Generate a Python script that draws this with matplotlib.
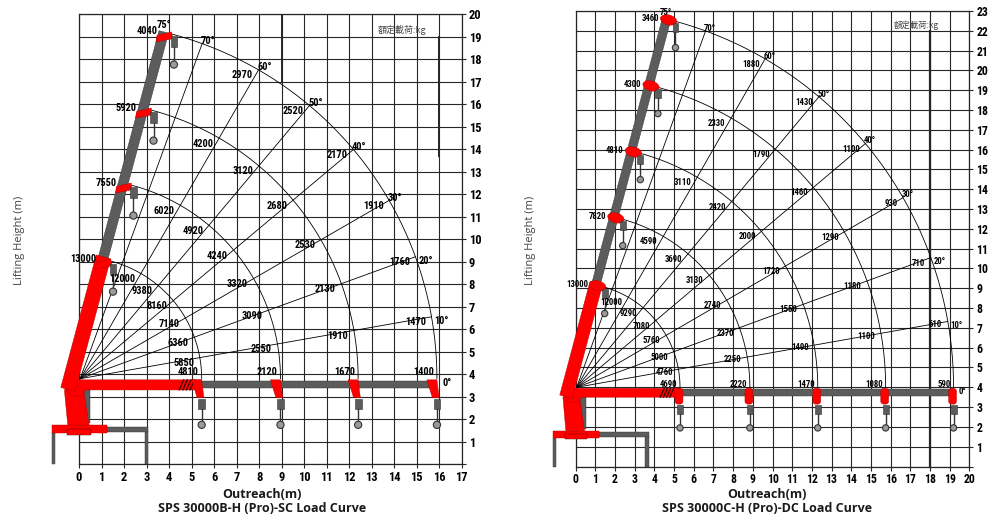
import numpy as np
import matplotlib.pyplot as plt
from matplotlib import font_manager as fm
from matplotlib.patches import Polygon, Circle, Rectangle, Ellipse, FancyBboxPatch

# pick a narrow font for the numbers if one is installed
_names = {f.name for f in fm.fontManager.ttflist}
_narrow = [n for n in ['Liberation Sans Narrow', 'Arial Narrow', 'Roboto Condensed', 'Archivo Narrow',
                       'PT Sans Narrow', 'Pragati Narrow', 'IBM Plex Sans Condensed'] if n in _names]
NUM_FONT = _narrow[:1] + ['DejaVu Sans']
CJK_FONT = ['Noto Sans CJK TC', 'DejaVu Sans']
RED = '#ff0000'
DARKRED = '#b00000'
GREY = '#5c5c5c'
LINE = '#262626'

# boom angles a load is given for (75 = boom position drawn), rays drawn
load_angles = [75, 60, 50, 40, 30, 20, 10, 0]
ray_angles = [70, 60, 50, 40, 30, 20, 10]
angle_marks = [75, 70, 60, 50, 40, 30, 20, 10, 0]

# ---- left chart: SPS 30000B-H (Pro)-SC
left_title = 'SPS 30000B-H (Pro)-SC Load Curve'
left_xmax, left_ymax = 17, 20
left_pivot = (0.05, 3.8)
left_radii = [5.4, 8.9, 12.35, 15.85]
left_loads = [
    [13000, 12000, 9380, 8160, 7140, 6360, 5850, 4810],
    [7550, 6020, 4920, 4240, 3320, 3090, 2550, 2120],
    [5920, 4200, 3120, 2680, 2530, 2130, 1910, 1670],
    [4040, 2970, 2520, 2170, 1910, 1760, 1470, 1400],
]

# ---- right chart: SPS 30000C-H (Pro)-DC
right_title = 'SPS 30000C-H (Pro)-DC Load Curve'
right_xmax, right_ymax = 20, 23
right_pivot = (0.05, 4.0)
right_radii = [5.25, 8.8, 12.25, 15.7, 19.15]
right_loads = [
    [13000, 12000, 9290, 7080, 5760, 5000, 4760, 4690],
    [7820, 4590, 3690, 3130, 2740, 2370, 2250, 2220],
    [4810, 3110, 2420, 2000, 1720, 1550, 1490, 1470],
    [4300, 2330, 1790, 1460, 1290, 1180, 1100, 1080],
    [3460, 1880, 1430, 1100, 930, 710, 610, 590],
]


def setup_axes(ax, xmax, ymax, tick_size):
    ax.set_xlim(0, xmax)
    ax.set_ylim(0, ymax)
    ax.set_xticks(range(0, xmax + 1))
    ax.set_yticks(range(0, ymax + 1))
    ax.set_yticklabels([''] + [str(v) for v in range(1, ymax + 1)])
    ax.yaxis.tick_right()
    ax.tick_params(length=3, width=0.8, color=LINE, pad=2, labelsize=tick_size)
    for lbl in ax.get_xticklabels() + ax.get_yticklabels():
        lbl.set_fontfamily(NUM_FONT)
        lbl.set_fontweight('bold')
    ax.grid(True, color=LINE, lw=0.8)
    ax.set_axisbelow(True)
    for sp in ax.spines.values():
        sp.set_color(LINE)
        sp.set_linewidth(0.9)


def boom_poly(pivot, s0, s1, c, w, ang=75):
    a = np.radians(ang)
    u = np.array([np.cos(a), np.sin(a)])
    n = np.array([-np.sin(a), np.cos(a)])
    p = np.array(pivot)
    pts = [p + s0 * u + (c - w) * n, p + s1 * u + (c - w) * n,
           p + s1 * u + (c + w) * n, p + s0 * u + (c + w) * n]
    return pts


def boom_point(pivot, s, c, ang=75):
    a = np.radians(ang)
    return (pivot[0] + s * np.cos(a) - c * np.sin(a),
            pivot[1] + s * np.sin(a) + c * np.cos(a))


def hook(ax, x, ytop, length=1.0, z=5):
    ax.add_patch(Rectangle((x - 0.15, ytop - 0.45), 0.3, 0.45, fc=GREY, ec='#333', lw=0.4,
                           zorder=z, clip_on=False))
    ax.plot([x, x], [ytop - 0.45, ytop - length + 0.2], color='#333', lw=1.0, zorder=z, clip_on=False)
    ax.add_patch(Circle((x, ytop - length + 0.05), 0.16, fc='#9a9a9a', ec='#333', lw=0.8,
                        zorder=z, clip_on=False))


def draw_crane(ax, pivot, radii, rounded, base):
    px, py = pivot
    r1, rmax = radii[0], radii[-1]
    bx0, bx1, gx1, by0, by1 = base
    kw = dict(clip_on=False, lw=0.3)
    # outrigger legs and beam
    ax.add_patch(Rectangle((bx0, 0), 0.16, by0, fc=GREY, ec='#333', zorder=4, **kw))
    ax.add_patch(Rectangle((gx1 - 0.16, 0), 0.16, by0 + 0.1, fc=GREY, ec='#333', zorder=4, **kw))
    ax.add_patch(Rectangle((bx1, by0 + 0.08), gx1 - bx1, by1 - by0 - 0.16, fc=GREY, ec='#333',
                           zorder=4, **kw))
    ax.add_patch(Rectangle((bx0, by0), bx1 - bx0, by1 - by0, fc=RED, ec=DARKRED, zorder=5, **kw))
    ax.add_patch(Rectangle((-0.55, by0 - 0.05), 1.1, 0.25, fc=RED, ec='#400', zorder=6, **kw))
    # slewing column with cylinder
    ax.add_patch(Rectangle((0.2, by1 + 0.1), 0.3, py - by1 - 0.6, fc=GREY, ec='#333', zorder=4, **kw))
    col = [(-0.5, by1), (0.45, by1), (0.2, py - 0.5), (-0.3, py - 0.2), (-0.65, py - 0.5)]
    ax.add_patch(Polygon(col, fc=RED, ec=DARKRED, zorder=5, **kw))
    # horizontal boom (0 deg position)
    ytop = py - 0.05
    ybot = py - 0.5
    ax.add_patch(Rectangle((r1, ybot + 0.07), rmax - r1, ytop - ybot - 0.12, fc=GREY, ec='#333',
                           zorder=5, **kw))
    ax.add_patch(Polygon([(-0.75, py - 0.25), (-0.3, ytop + 0.1), (0.1, ytop), (r1 + 0.05, ytop),
                          (r1 + 0.05, ybot), (0.3, ybot), (0.1, ybot - 0.3), (-0.4, ybot - 0.2)],
                         fc=RED, ec=DARKRED, zorder=6, **kw))
    for k in range(4):
        x0 = r1 - 0.95 + k * 0.16
        ax.plot([x0, x0 + 0.2], [ybot, ytop], color='#300', lw=0.9, zorder=7, clip_on=False)
    for r in radii:
        if rounded:
            ax.add_patch(FancyBboxPatch((r - 0.15, ybot - 0.3), 0.3, ytop - ybot + 0.25,
                                        boxstyle='round,pad=0.05,rounding_size=0.15',
                                        fc=RED, ec=DARKRED, zorder=7, **kw))
        else:
            ax.add_patch(Polygon([(r - 0.4, ytop), (r + 0.05, ytop), (r + 0.15, ybot - 0.35),
                                  (r - 0.15, ybot - 0.35)], fc=RED, ec=DARKRED, zorder=7, **kw))
        hook(ax, r + 0.05, ybot - 0.4, 1.2)
    # knuckle (inner) boom and outer boom at 75 deg
    c = 0.4
    ax.add_patch(Polygon(boom_poly(pivot, r1, rmax, c, 0.22), fc=GREY, ec='#333', zorder=6, **kw))
    ax.add_patch(Polygon(boom_poly(pivot, -0.6, r1 + 0.1, c, 0.33), fc=RED, ec=DARKRED, zorder=7, **kw))
    for r in radii:
        hx, hy = boom_point(pivot, r, c)
        if rounded:
            ax.add_patch(Ellipse((hx + 0.1, hy - 0.05), 0.85, 0.5, angle=-15, fc=RED, ec=DARKRED,
                                 zorder=8, **kw))
        else:
            ax.add_patch(Polygon([(hx - 0.3, hy - 0.15), (hx + 0.35, hy), (hx + 0.4, hy - 0.3),
                                  (hx - 0.35, hy - 0.45)], fc=RED, ec=DARKRED, zorder=8, **kw))
        hook(ax, hx + 0.45, hy - 0.2, 1.3, z=8)


def draw_chart(ax, pivot, radii, loads, num_size, rounded, base, low_dy):
    px, py = pivot
    rmax = radii[-1]
    # rays
    for a in ray_angles:
        t = np.radians(a)
        ax.plot([px, px + rmax * np.cos(t)], [py, py + rmax * np.sin(t)], color='black', lw=0.6,
                zorder=3)
    # arcs
    th = np.radians(np.linspace(0, 75, 200))
    for r in radii:
        ax.plot(px + r * np.cos(th), py + r * np.sin(th), color='black', lw=0.6, zorder=3)
    draw_crane(ax, pivot, radii, rounded, base)
    # load values
    for r, row in zip(radii, loads):
        for a, v in zip(load_angles, row):
            t = np.radians(a)
            x, y = px + r * np.cos(t), py + r * np.sin(t)
            if a == 75:
                off, va = (-11, 2), 'center'
            elif a == 0:
                off, va = (-2, low_dy[0]), 'bottom'
            elif a == 10:
                off, va = (-4, low_dy[1]), 'center'
            else:
                off, va = (-4, -4), 'center'
            ax.annotate(str(v), (x, y), xytext=off, textcoords='offset points', ha='right', va=va,
                        fontsize=num_size, fontweight='bold', family=NUM_FONT, zorder=9,
                        annotation_clip=False)
    # angle marks at the outer arc
    for a in angle_marks:
        t = np.radians(a)
        x, y = px + rmax * np.cos(t), py + rmax * np.sin(t)
        if a == 75:
            off, ha, va = (-6, 3), 'center', 'bottom'
        elif a == 0:
            off, ha, va = (4, -3), 'left', 'center'
        elif a <= 20:
            off, ha, va = (2, -3), 'left', 'center'
        else:
            off, ha, va = (-1, 2), 'left', 'center'
        ax.annotate(f'{a}°', (x, y), xytext=off, textcoords='offset points', ha=ha, va=va,
                    fontsize=num_size, fontweight='bold', family=NUM_FONT, zorder=9,
                    annotation_clip=False)


fig = plt.figure(figsize=(10, 5.25), dpi=100)

ax1 = fig.add_axes([0.079, 0.1158, 0.3827, 0.8571])
setup_axes(ax1, left_xmax, left_ymax, 9)
draw_chart(ax1, left_pivot, left_radii, left_loads, 7.5, False, (-1.22, 1.23, 3.08, 1.37, 1.74),
           (1, -4))
ax1.plot([9, 9], [17, 20], color=LINE, lw=1.4, zorder=2)
ax1.plot([16, 16], [13.7, 19], color=LINE, lw=1.4, zorder=2)
ax1.text(14.35, 19.3, '額定載荷:kg', family=CJK_FONT, fontsize=6.5, color='#444', ha='center',
         va='center', zorder=9)

ax2 = fig.add_axes([0.5757, 0.1114, 0.3936, 0.8676])
setup_axes(ax2, right_xmax, right_ymax, 8.5)
draw_chart(ax2, right_pivot, right_radii, right_loads, 6.3, True, (-1.17, 1.2, 3.7, 1.42, 1.8),
           (-1, -2))
ax2.plot([18, 18], [0, 22], color=LINE, lw=1.6, zorder=2)
ax2.text(17.33, 22.3, '額定載荷:kg', family=CJK_FONT, fontsize=6, color='#444', ha='center',
         va='center', zorder=9)

for xc, yl, title in [(0.262, 0.020, left_title), (0.767, 0.530, right_title)]:
    fig.text(xc, 1 - 494 / 525, 'Outreach(m)', ha='center', va='center', fontsize=9,
             fontweight='bold', family=['Open Sans', 'DejaVu Sans'], color='#1a1a1a')
    fig.text(xc, 1 - 508 / 525, title, ha='center', va='center', fontsize=9,
             fontweight='bold', family=['Open Sans', 'DejaVu Sans'], color='#1a1a1a')
    fig.text(yl, 1 - 240 / 525, 'Lifting Height (m)', ha='center', va='center', rotation=90,
             fontsize=8, family=['Open Sans', 'DejaVu Sans'], color='#444')

fig.savefig('out.png', dpi=100, facecolor='white')
